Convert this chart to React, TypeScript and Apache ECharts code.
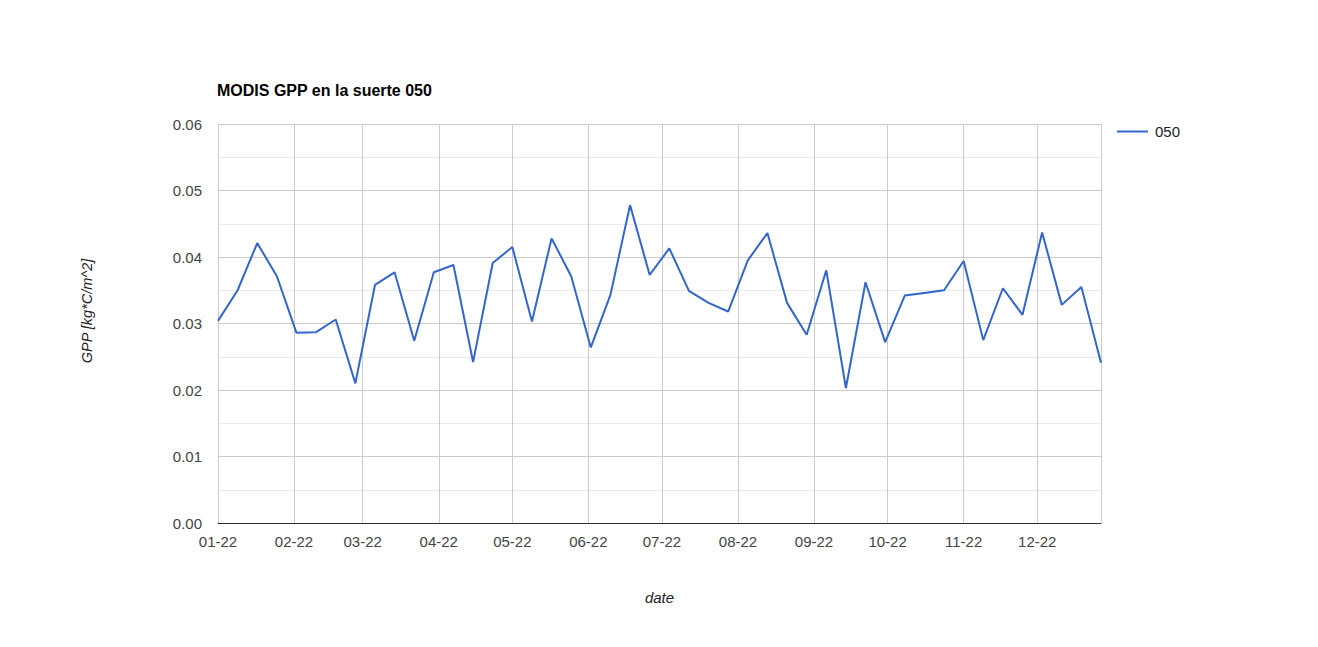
import React, { useEffect, useRef } from "react";
import * as echarts from "echarts";

const START_YEAR = 2022;
const STEP_DAYS = 8;
const gppValues: number[] = [
  0.0304, 0.035, 0.0421, 0.0371, 0.0286, 0.0287, 0.0306, 0.021, 0.0358, 0.0377,
  0.0274, 0.0377, 0.0388, 0.0242, 0.0391, 0.0415, 0.0303, 0.0428, 0.0371, 0.0264,
  0.0343, 0.0478, 0.0373, 0.0413, 0.0349, 0.0331, 0.0318, 0.0395, 0.0436, 0.0331,
  0.0283, 0.038, 0.0203, 0.0362, 0.0272, 0.0342, 0.0346, 0.035, 0.0394, 0.0275,
  0.0353, 0.0313, 0.0437, 0.0328, 0.0355, 0.0241,
];
const seriesName = "050";
const titleText = "MODIS GPP en la suerte 050";
const yAxisTitle = "GPP [kg*C/m^2]";
const xAxisTitle = "date";

const FONT = "Arial, 'Liberation Sans', sans-serif";

export default function App() {
  const ref = useRef<HTMLDivElement>(null);
  useEffect(() => {
    if (!ref.current) return;
    const chart = echarts.init(ref.current, undefined, { renderer: "svg" });
    const data = gppValues.map((v, i) => [
      new Date(START_YEAR, 0, 1 + i * STEP_DAYS).getTime(),
      v,
    ]);
    const minT = data[0][0];
    const maxT = data[data.length - 1][0];
    const DAY = 86400000;
    chart.setOption({
      animation: false,
      textStyle: { fontFamily: FONT },
      title: {
        text: titleText,
        left: 217,
        top: 82,
        padding: 0,
        textStyle: { fontSize: 16, fontWeight: "bold", color: "#000", fontFamily: FONT },
      },
      legend: {
        left: 1117,
        top: 124,
        padding: 0,
        icon: "rect",
        itemWidth: 31,
        itemHeight: 2,
        itemGap: 8,
        textStyle: { fontSize: 15, color: "#222", fontFamily: FONT, padding: [0, 0, 0, 2] },
        data: [{ name: seriesName, icon: "rect" }],
      },
      graphic: [
        {
          type: "text",
          x: 87,
          y: 311,
          rotation: Math.PI / 2,
          style: {
            text: yAxisTitle,
            fontSize: 14.5,
            fontStyle: "italic",
            fontFamily: FONT,
            fill: "#222",
            align: "center",
            verticalAlign: "middle",
          },
        },
      ],
      grid: { left: 218, top: 124, right: 217, bottom: 124, containLabel: false },
      xAxis: {
        type: "time",
        min: minT,
        max: maxT,
        minInterval: 28 * DAY,
        maxInterval: 31 * DAY,
        splitNumber: 12,
        name: xAxisTitle,
        nameLocation: "middle",
        nameGap: 67,
        nameTextStyle: { fontStyle: "italic", fontSize: 15, color: "#222", fontFamily: FONT },
        axisLine: { show: true, lineStyle: { color: "#333", width: 1 } },
        axisTick: { show: false },
        axisLabel: {
          formatter: "{MM}-{yy}",
          fontSize: 15,
          color: "#444",
          margin: 11,
          hideOverlap: false,
          showMinLabel: true,
          showMaxLabel: false,
          fontFamily: FONT,
        },
        splitLine: { show: true, lineStyle: { color: "#cccccc", width: 1 } },
      },
      yAxis: {
        type: "value",
        min: 0,
        max: 0.06,
        interval: 0.01,
        axisLine: { show: false },
        axisTick: { show: false },
        axisLabel: {
          formatter: (v: number) => v.toFixed(2),
          fontSize: 15,
          color: "#444",
          margin: 16,
          fontFamily: FONT,
        },
        splitLine: { show: true, lineStyle: { color: "#cccccc", width: 1 } },
        minorTick: { show: false, splitNumber: 2 },
        minorSplitLine: { show: true, lineStyle: { color: "#ebebeb", width: 1 } },
      },
      series: [
        {
          name: seriesName,
          type: "line",
          data,
          showSymbol: false,
          symbol: "none",
          lineStyle: { color: "#3366cc", width: 2 },
          itemStyle: { color: "#3366cc" },
        },
      ],
    });
    return () => chart.dispose();
  }, []);
  return (
    <div
      ref={ref}
      style={{ position: "absolute", left: 0, top: 0, width: 1318, height: 647, background: "#fff" }}
    />
  );
}
